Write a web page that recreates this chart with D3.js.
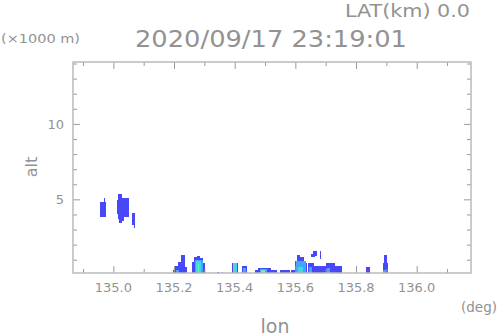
<!DOCTYPE html>
<html>
<head>
<meta charset="utf-8">
<script src="https://cdn.jsdelivr.net/npm/d3@7"></script>
<style>
  body { margin: 0; background: #fff; }
  text { font-family: "DejaVu Sans", sans-serif; fill: #929292; }
</style>
</head>
<body>
<div id="chart"></div>
<script>
// echo cells: [lonStart, lonEnd, altBottom(km), altTop(km), colour level]
var upperEcho = [
    [134.956, 134.976, 3.85, 4.85, 0],
    [134.968, 134.973, 4.85, 5.10, 0],
    [135.011, 135.016, 4.00, 4.95, 0],
    [135.016, 135.020, 3.70, 5.35, 0],
    [135.020, 135.030, 3.45, 5.35, 0],
    [135.030, 135.036, 3.55, 5.10, 0],
    [135.036, 135.052, 3.85, 5.10, 0],
    [135.062, 135.070, 3.30, 4.10, 0],
    [135.067, 135.070, 3.10, 3.30, 0]
];
var lowEcho = [
    [135.197, 135.203, 0.12, 0.34, 0],
    [135.203, 135.213, 0.12, 0.60, 0],
    [135.213, 135.223, 0.12, 0.86, 0],
    [135.223, 135.236, 0.12, 1.33, 0],
    [135.236, 135.243, 0.12, 0.55, 0],
    [135.205, 135.218, 0.12, 0.35, 2],
    [135.259, 135.266, 0.12, 0.86, 0],
    [135.266, 135.276, 0.12, 1.20, 0],
    [135.276, 135.286, 0.12, 1.26, 0],
    [135.286, 135.296, 0.12, 1.13, 0],
    [135.296, 135.302, 0.12, 0.80, 0],
    [135.268, 135.294, 0.12, 1.00, 2],
    [135.274, 135.288, 0.12, 0.90, 3],
    [135.279, 135.284, 0.20, 0.70, 4],
    [135.342, 135.348, 0.12, 0.20, 0],
    [135.358, 135.361, 0.12, 0.20, 0],
    [135.391, 135.410, 0.12, 0.80, 0],
    [135.395, 135.406, 0.12, 0.78, 3],
    [135.398, 135.403, 0.12, 0.50, 4],
    [135.424, 135.440, 0.12, 0.60, 0],
    [135.428, 135.436, 0.12, 0.45, 2],
    [135.467, 135.539, 0.12, 0.35, 0],
    [135.476, 135.520, 0.12, 0.45, 0],
    [135.483, 135.506, 0.12, 0.40, 2],
    [135.488, 135.500, 0.12, 0.33, 4],
    [135.490, 135.498, 0.12, 0.25, 5],
    [135.549, 135.582, 0.12, 0.30, 0],
    [135.585, 135.599, 0.12, 0.35, 0],
    [135.599, 135.605, 0.12, 0.90, 0],
    [135.605, 135.615, 0.12, 1.33, 0],
    [135.615, 135.630, 0.12, 1.20, 0],
    [135.630, 135.640, 0.12, 0.80, 0],
    [135.603, 135.635, 0.12, 0.90, 2],
    [135.610, 135.625, 0.12, 0.50, 3],
    [135.651, 135.665, 1.20, 1.40, 0],
    [135.658, 135.671, 1.25, 1.60, 0],
    [135.681, 135.684, 1.05, 1.60, 0],
    [135.641, 135.660, 0.12, 0.80, 0],
    [135.660, 135.700, 0.12, 0.60, 0],
    [135.700, 135.730, 0.12, 0.75, 0],
    [135.730, 135.754, 0.12, 0.60, 0],
    [135.645, 135.655, 0.12, 0.50, 2],
    [135.705, 135.715, 0.12, 0.45, 2],
    [135.833, 135.846, 0.12, 0.50, 0],
    [135.888, 135.904, 0.12, 0.80, 0],
    [135.892, 135.902, 0.12, 1.33, 0],
    [135.890, 135.900, 0.12, 0.35, 2]
];
var levelColors = ["#4848f8", "#4878f8", "#40a8f8", "#40d8f0", "#60f0b0", "#c0e060"];
var lonMajor = [135.0, 135.2, 135.4, 135.6, 135.8, 136.0];
var lonMinor = [134.9, 135.1, 135.3, 135.5, 135.7, 135.9, 136.1];
var altMajor = [5, 10];
var altMinor = [1, 2, 3, 4, 6, 7, 8, 9, 11, 12, 13, 14];

var W = 498, H = 336;
var margin = {top: 62, right: 27, bottom: 63, left: 73};
var width = W - margin.left - margin.right;
var height = H - margin.top - margin.bottom;

var svg = d3.select("#chart").append("svg")
    .attr("width", W)
    .attr("height", H);

var x = d3.scaleLinear().domain([134.867, 136.179]).range([0, width]);
var y = d3.scaleLinear().domain([0.12, 14.1]).range([height, 0]);

var g = svg.append("g")
    .attr("transform", "translate(" + margin.left + "," + margin.top + ")");

// echo cells
g.append("g").selectAll("rect")
    .data(upperEcho.concat(lowEcho))
    .enter()
    .append("rect")
    .attr("x", d => x(d[0]))
    .attr("y", d => y(d[3]))
    .attr("width", d => x(d[1]) - x(d[0]))
    .attr("height", d => y(d[2]) - y(d[3]))
    .attr("fill", d => levelColors[d[4]])
    .attr("shape-rendering", "crispEdges");

// inward ticks on all four sides
function tickAxis(axis, vals, size, tx, ty) {
    var a = g.append("g")
        .attr("transform", "translate(" + tx + "," + ty + ")")
        .call(axis.tickValues(vals).tickSize(size).tickFormat(""));
    a.select(".domain").remove();
    a.selectAll("line").attr("stroke", "#999");
}
tickAxis(d3.axisBottom(x), lonMajor, -7, 0, height);
tickAxis(d3.axisBottom(x), lonMinor, -4, 0, height);
tickAxis(d3.axisTop(x), lonMajor, -7, 0, 0);
tickAxis(d3.axisTop(x), lonMinor, -4, 0, 0);
tickAxis(d3.axisLeft(y), altMajor, -7, 0, 0);
tickAxis(d3.axisLeft(y), altMinor, -4, 0, 0);
tickAxis(d3.axisRight(y), altMajor, -7, width, 0);
tickAxis(d3.axisRight(y), altMinor, -4, width, 0);

// frame
g.append("rect")
    .attr("width", width)
    .attr("height", height)
    .attr("fill", "none")
    .attr("stroke", "#bbb")
    .attr("stroke-width", 1.5);

// tick labels
g.selectAll(".xl")
    .data(lonMajor)
    .enter()
    .append("text")
    .attr("x", d => x(d))
    .attr("y", height + 19)
    .attr("text-anchor", "middle")
    .style("font-size", "13px")
    .text(d => d.toFixed(1));

g.selectAll(".yl")
    .data(altMajor)
    .enter()
    .append("text")
    .attr("x", -9)
    .attr("y", d => y(d) + 5)
    .attr("text-anchor", "end")
    .style("font-size", "13px")
    .text(d => d);

// titles and axis names
svg.append("text")
    .attr("x", 345).attr("y", 17)
    .attr("textLength", 125).attr("lengthAdjust", "spacingAndGlyphs")
    .style("font-size", "18px")
    .text("LAT(km) 0.0");

svg.append("text")
    .attr("x", 135).attr("y", 47)
    .attr("textLength", 272).attr("lengthAdjust", "spacingAndGlyphs")
    .style("font-size", "23px")
    .text("2020/09/17 23:19:01");

svg.append("text")
    .attr("x", 1).attr("y", 43)
    .attr("textLength", 79).attr("lengthAdjust", "spacingAndGlyphs")
    .style("font-size", "13px")
    .text("(×1000 m)");

svg.append("text")
    .attr("x", 497).attr("y", 312)
    .attr("text-anchor", "end")
    .style("font-size", "13.5px")
    .text("(deg)");

svg.append("text")
    .attr("x", 275).attr("y", 333)
    .attr("text-anchor", "middle")
    .style("font-size", "19px")
    .text("lon");

svg.append("g")
    .attr("transform", "translate(37,167)")
    .append("text")
    .attr("text-anchor", "middle")
    .attr("transform", "rotate(-90)")
    .style("font-size", "16px")
    .text("alt");
</script>
</body>
</html>
